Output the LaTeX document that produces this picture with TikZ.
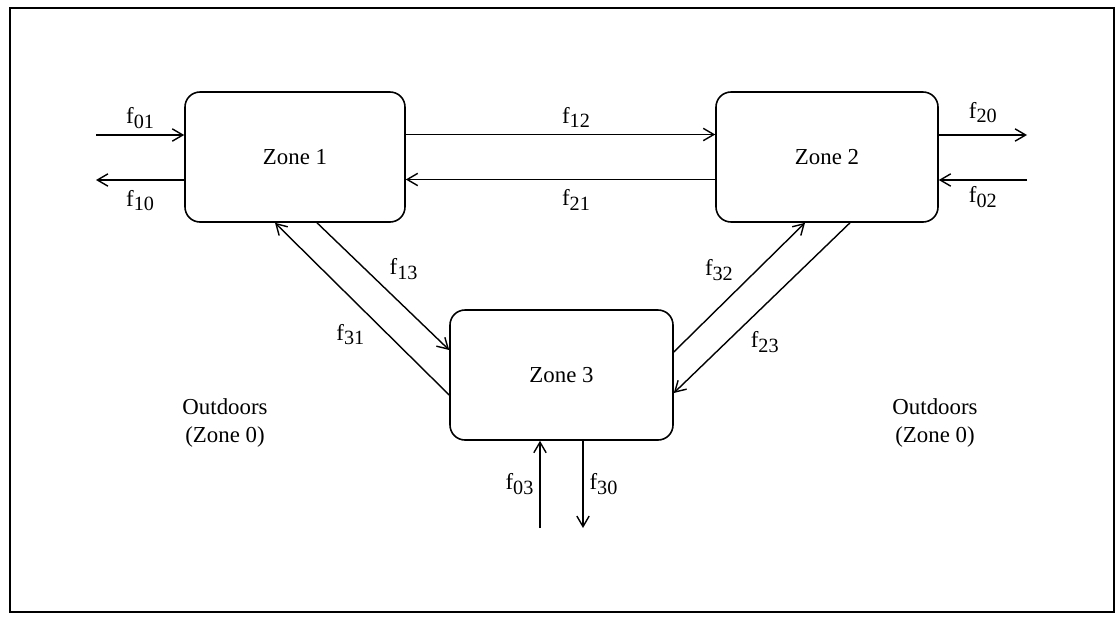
\documentclass[tikz,border=0pt]{standalone}
\usepackage{fontspec}
\setmainfont{Liberation Serif}
\usetikzlibrary{arrows.meta,positioning,calc}
\newcommand{\fsub}[1]{f\raisebox{-0.45ex}{\fontsize{11.5}{13}\selectfont #1}}

\begin{document}
\begin{tikzpicture}[>={Straight Barb[length=6pt,width=7pt]},
    zone/.style={draw,line width=0.9pt,rounded corners=0.3cm,minimum width=4.4cm,minimum height=2.6cm},
    flow/.style={->,line width=0.8pt},
    font=\fontsize{13}{16}\selectfont]
    \useasboundingbox (0,0) rectangle (22.34,-12.32);
    \draw[line width=0.8pt] (0.2,-0.16) rectangle (22.28,-12.24);
    \draw[line width=1.4pt] (0.2,-0.16) -- (22.28,-0.16);
    % zones
    \node[zone] (z1) at (5.9,-3.14) {Zone 1};
    \node[zone,minimum width=4.44cm] (z2) at (16.54,-3.14) {Zone 2};
    \node[zone,minimum width=4.46cm] (z3) at (11.23,-7.5) {Zone 3};
    % outdoor ends
    \coordinate (w01) at (1.92,-2.7);
    \coordinate (w10) at (1.92,-3.6);
    \coordinate (e20) at (20.54,-2.7);
    \coordinate (e02) at (20.54,-3.6);
    \coordinate (s03) at (10.8,-10.56);
    \coordinate (s30) at (11.66,-10.56);
    % flows to and from outdoors
    \draw[flow] (w01) -- (w01 -| z1.west) node[midway,above] {\fsub{01}};
    \draw[flow] (w10 -| z1.west) -- (w10) node[midway,below=2pt] {\fsub{10}};
    \draw[flow] (e20 -| z2.east) -- (e20) node[midway,above=3pt] {\fsub{20}};
    \draw[flow] (e02) -- (e02 -| z2.east) node[midway,below] {\fsub{02}};
    \draw[flow] (s03) -- (s03 |- z3.south) node[midway,left] {\fsub{03}};
    \draw[flow] (s30 |- z3.south) -- (s30) node[midway,right] {\fsub{30}};
    % flows between zones
    \draw[flow] ([yshift=0.45cm]z1.east) -- ([yshift=0.45cm]z2.west) node[pos=0.55,above] {\fsub{12}};
    \draw[flow] ([yshift=-0.45cm]z2.west) -- ([yshift=-0.45cm]z1.east) node[pos=0.45,below=2pt] {\fsub{21}};
    \draw[flow] ([xshift=0.44cm]z1.south) -- ([yshift=0.5cm]z3.west) node[midway,above right=0pt] {\fsub{13}};
    \draw[flow] ([yshift=-0.4cm]z3.west) -- ([xshift=-0.4cm]z1.south) node[pos=0.45,below left=0pt] {\fsub{31}};
    \draw[flow] ([yshift=0.46cm]z3.east) -- ([xshift=-0.44cm]z2.south) node[midway,above left=0pt] {\fsub{32}};
    \draw[flow] ([xshift=0.46cm]z2.south) -- ([yshift=-0.36cm]z3.east) node[pos=0.6,below right=0pt] {\fsub{23}};
    % outdoors
    \node[align=center] (out1) at (4.5,-8.46) {Outdoors\\(Zone 0)};
    \node[align=center] (out2) at (18.7,-8.46) {Outdoors\\(Zone 0)};
\end{tikzpicture}
\end{document}
